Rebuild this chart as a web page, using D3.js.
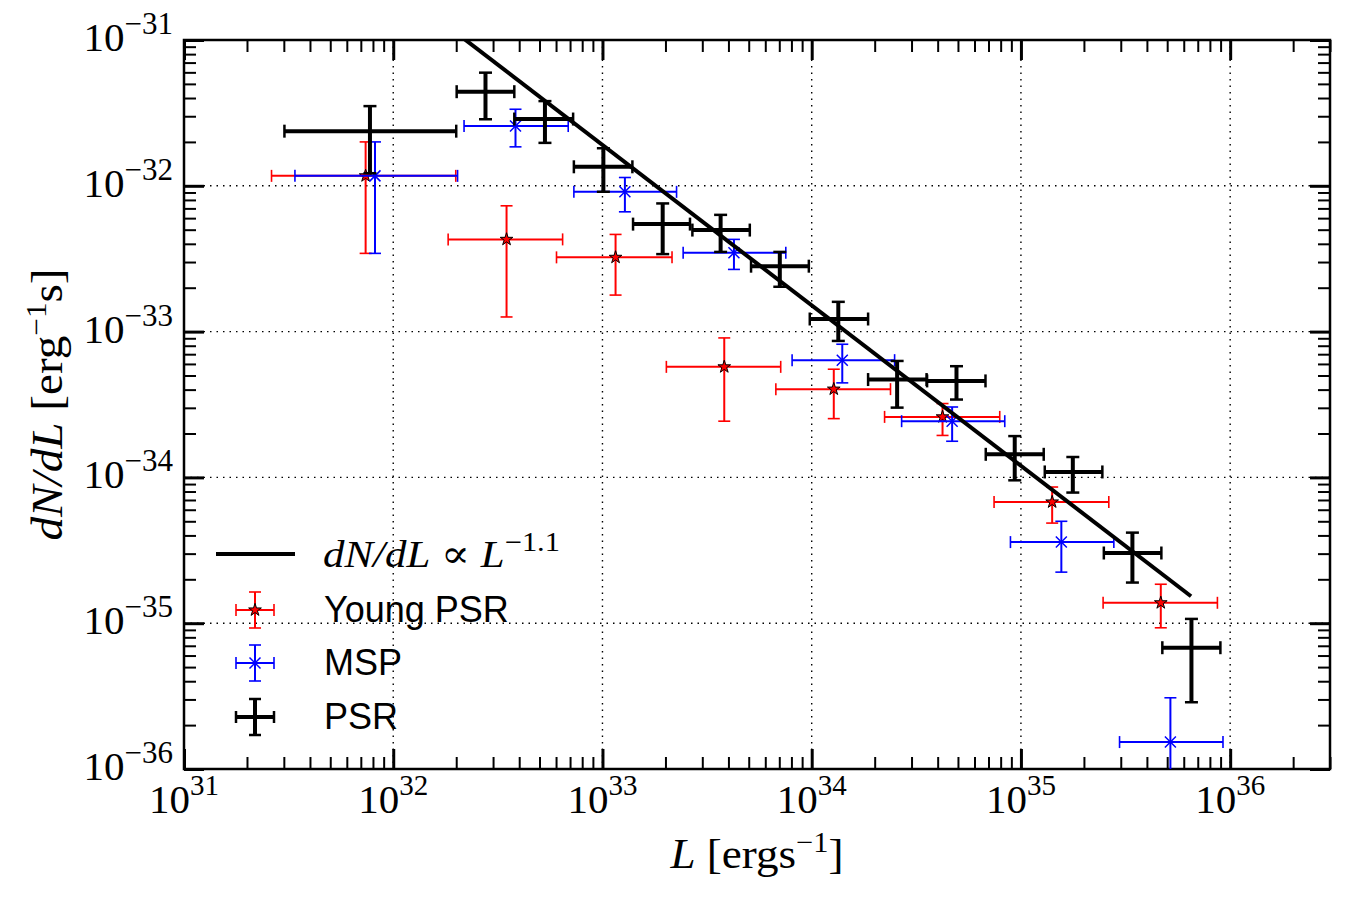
<!DOCTYPE html>
<meta charset="utf-8">
<script src="https://d3js.org/d3.v7.min.js"></script>
<style>
  body { margin: 0; background: #fff; }
  text { fill: #000; }
</style>
<div id="chart"></div>
<script>

// ---- data ----
// PSR (all pulsars), black crosses
var psrL   = [7.74e31, 2.76e32, 5.31e32, 1.01e33, 1.94e33, 3.67e33, 7.04e33, 1.34e34, 2.56e34, 4.92e34, 9.34e34, 1.77e35, 3.41e35, 6.53e35];
var psrLlo = [3.02e31, 2.01e32, 3.79e32, 7.30e32, 1.40e33, 2.69e33, 5.13e33, 9.79e33, 1.86e34, 3.56e34, 6.79e34, 1.30e35, 2.49e35, 4.74e35];
var psrLhi = [2.00e32, 3.79e32, 7.24e32, 1.39e33, 2.62e33, 5.06e33, 9.69e33, 1.86e34, 3.54e34, 6.77e34, 1.285e35, 2.45e35, 4.69e35, 8.98e35];
var psrY   = [2.37e-32, 4.42e-32, 2.87e-32, 1.35e-32, 5.46e-33, 4.97e-33, 2.81e-33, 1.22e-33, 4.69e-34, 4.59e-34, 1.44e-34, 1.09e-34, 3.03e-35, 6.79e-36];
var psrYlo = [1.22e-32, 2.86e-32, 1.97e-32, 9.10e-33, 3.40e-33, 3.52e-33, 2.03e-33, 8.63e-34, 3.01e-34, 3.42e-34, 9.55e-35, 7.87e-35, 1.90e-35, 2.87e-36];
var psrYhi = [3.52e-32, 5.97e-32, 3.81e-32, 1.81e-32, 7.57e-33, 6.32e-33, 3.52e-33, 1.60e-33, 6.29e-34, 5.79e-34, 1.92e-34, 1.38e-34, 4.18e-35, 1.07e-35];

// MSP, blue x
var mspL   = [8.18e31, 3.84e32, 1.28e33, 4.25e33, 1.40e34, 4.69e34, 1.56e35, 5.18e35];
var mspLlo = [3.39e31, 2.18e32, 7.30e32, 2.43e33, 8.06e33, 2.69e34, 8.91e34, 2.96e35];
var mspLhi = [2.03e32, 6.86e32, 2.26e33, 7.52e33, 2.49e34, 8.37e34, 2.78e35, 9.24e35];
var mspY   = [1.17e-32, 2.57e-32, 9.09e-33, 3.47e-33, 6.37e-34, 2.43e-34, 3.60e-35, 1.53e-36];
var mspYlo = [3.44e-33, 1.85e-32, 6.63e-33, 2.67e-33, 4.45e-34, 1.77e-34, 2.24e-35, 0];
var mspYhi = [2.00e-32, 3.35e-32, 1.14e-32, 4.29e-33, 8.19e-34, 3.04e-34, 5.00e-35, 3.08e-36];

// Young PSR, red stars
var youngL   = [7.38e31, 3.48e32, 1.155e33, 3.82e33, 1.275e34, 4.22e34, 1.41e35, 4.66e35];
var youngLlo = [2.62e31, 1.83e32, 6.03e32, 2.02e33, 6.74e33, 2.23e34, 7.44e34, 2.47e35];
var youngLhi = [1.99e32, 6.45e32, 2.15e33, 7.11e33, 2.38e34, 7.92e34, 2.63e35, 8.69e35];
var youngY   = [1.17e-32, 4.29e-33, 3.23e-33, 5.73e-34, 4.03e-34, 2.60e-34, 6.78e-35, 1.38e-35];
var youngYlo = [3.44e-33, 1.26e-33, 1.78e-33, 2.43e-34, 2.53e-34, 1.94e-34, 4.86e-35, 9.3e-36];
var youngYhi = [2.00e-32, 7.29e-33, 4.64e-33, 9.05e-34, 5.52e-34, 3.21e-34, 8.59e-35, 1.85e-35];

// power law dN/dL ~ L^-1.1 (end points)
var fitL = [2.0e32, 6.5e35];
var fitY = [1.12e-31, 1.53e-35];

var xMajor = [1e31, 1e32, 1e33, 1e34, 1e35, 1e36];
var xExp   = ["31", "32", "33", "34", "35", "36"];
var yMajor = [1e-31, 1e-32, 1e-33, 1e-34, 1e-35, 1e-36];
var yExp   = ["\u221231", "\u221232", "\u221233", "\u221234", "\u221235", "\u221236"];

// ---- layout ----
var W = 1350, H = 900;
var pL = 184, pR = 1330, pT = 40, pB = 769;

var svg = d3.select("#chart").append("svg")
  .attr("width", W).attr("height", H)
  .style("background", "#fff");

var x = d3.scaleLog().domain([1e31, 3e36]).range([pL, pR]);
var y = d3.scaleLog().domain([1e-36, 1e-31]).range([pB, pT]);

svg.append("clipPath").attr("id", "clip")
  .append("rect").attr("x", pL).attr("y", pT)
  .attr("width", pR - pL).attr("height", pB - pT);

// grid (dotted, major decades)
var grid = svg.append("g").attr("stroke", "#000").attr("stroke-width", 1.4)
  .attr("stroke-dasharray", "1.5,5");
grid.selectAll(".gx").data(xMajor.slice(1)).enter().append("line")
  .attr("x1", d => x(d)).attr("x2", d => x(d)).attr("y1", pT).attr("y2", pB);
grid.selectAll(".gy").data(yMajor.slice(1, 5)).enter().append("line")
  .attr("y1", d => y(d)).attr("y2", d => y(d)).attr("x1", pL).attr("x2", pR);

// ticks on all four sides, pointing inwards
var isDecade = d => Math.abs(Math.log10(d) - Math.round(Math.log10(d))) < 1e-6;
var xMinor = x.ticks().filter(d => !isDecade(d));
var yMinor = y.ticks().filter(d => !isDecade(d));

function tickAxis(axis, tr, vals, size, sw) {
  var g = svg.append("g").attr("transform", tr)
    .call(axis.tickValues(vals).tickSize(-size).tickFormat(""));
  g.select(".domain").remove();
  g.selectAll(".tick line").attr("stroke", "#000").attr("stroke-width", sw);
}
var xAxes = [[d3.axisBottom, "translate(0," + pB + ")"], [d3.axisTop, "translate(0," + pT + ")"]];
var yAxes = [[d3.axisLeft, "translate(" + pL + ",0)"], [d3.axisRight, "translate(" + pR + ",0)"]];
xAxes.forEach(function(a) {
  tickAxis(a[0](x), a[1], xMinor, 12, 2);
  tickAxis(a[0](x), a[1], xMajor, 20, 3);
});
yAxes.forEach(function(a) {
  tickAxis(a[0](y), a[1], yMinor, 12, 2);
  tickAxis(a[0](y), a[1], yMajor, 20, 3);
});

// frame
svg.append("rect").attr("x", pL).attr("y", pT)
  .attr("width", pR - pL).attr("height", pB - pT)
  .attr("fill", "none").attr("stroke", "#000").attr("stroke-width", 2.5);

// tick labels
var serif = "'Liberation Serif', 'DejaVu Serif', serif";
xMajor.forEach(function(v, i) {
  var t = svg.append("text").attr("x", x(v)).attr("y", 813)
    .attr("text-anchor", "middle").style("font-family", serif).style("font-size", "41px");
  t.append("tspan").text("10");
  t.append("tspan").attr("dy", -18).style("font-size", "29px").text(xExp[i]);
});
yMajor.forEach(function(v, i) {
  var t = svg.append("text").attr("x", 173).attr("y", y(v) + 11)
    .attr("text-anchor", "end").style("font-family", serif).style("font-size", "41px");
  t.append("tspan").text("10");
  t.append("tspan").attr("dy", -17).style("font-size", "31px").text(yExp[i]);
});

// axis labels
var xl = svg.append("text").attr("x", (pL + pR) / 2).attr("y", 868)
  .attr("text-anchor", "middle").attr("textLength", 173).attr("lengthAdjust", "spacingAndGlyphs")
  .style("font-family", serif).style("font-size", "43px");
xl.append("tspan").style("font-style", "italic").text("L");
xl.append("tspan").text(" [ergs");
xl.append("tspan").attr("dy", -16).style("font-size", "29px").text("\u22121");
xl.append("tspan").attr("dy", 16).text("]");

var yl = svg.append("text").attr("transform", "translate(62," + ((pT + pB) / 2) + ") rotate(-90)")
  .attr("text-anchor", "middle").attr("textLength", 272).attr("lengthAdjust", "spacingAndGlyphs")
  .style("font-family", serif).style("font-size", "44px");
yl.append("tspan").style("font-style", "italic").text("dN/dL");
yl.append("tspan").text(" [erg");
yl.append("tspan").attr("dy", -16).style("font-size", "29px").text("\u22121");
yl.append("tspan").attr("dy", 16).text("s]");

// ---- error bars ----
var plot = svg.append("g").attr("clip-path", "url(#clip)");

function errorbars(L, Llo, Lhi, Y, Ylo, Yhi, color, lw, capw, cap) {
  var g = plot.append("g").attr("stroke", color);
  L.forEach(function(l, i) {
    var cx = x(l), cy = y(Y[i]);
    var yb = Ylo[i] > 0 ? y(Ylo[i]) : pB + 20;
    g.append("line").attr("x1", x(Llo[i])).attr("x2", x(Lhi[i])).attr("y1", cy).attr("y2", cy).attr("stroke-width", lw);
    g.append("line").attr("x1", cx).attr("x2", cx).attr("y1", y(Yhi[i])).attr("y2", yb).attr("stroke-width", lw);
    [x(Llo[i]), x(Lhi[i])].forEach(function(px) {
      g.append("line").attr("x1", px).attr("x2", px).attr("y1", cy - cap).attr("y2", cy + cap).attr("stroke-width", capw);
    });
    [y(Yhi[i])].concat(Ylo[i] > 0 ? [yb] : []).forEach(function(py) {
      g.append("line").attr("x1", cx - cap).attr("x2", cx + cap).attr("y1", py).attr("y2", py).attr("stroke-width", capw);
    });
  });
  return g;
}

var star = d3.symbol().type(d3.symbolStar).size(50);

var gy = errorbars(youngL, youngLlo, youngLhi, youngY, youngYlo, youngYhi, "#ff0000", 2, 1.6, 6);
gy.selectAll(".m").data(youngL).enter().append("path")
  .attr("d", star).attr("transform", (d, i) => "translate(" + x(d) + "," + y(youngY[i]) + ")")
  .attr("fill", "#ff0000").attr("stroke", "#000").attr("stroke-width", 1);

var gm = errorbars(mspL, mspLlo, mspLhi, mspY, mspYlo, mspYhi, "#0000ff", 2, 1.6, 6);
mspL.forEach(function(l, i) {
  var cx = x(l), cy = y(mspY[i]), r = 5.5;
  gm.append("path").attr("d", "M" + (cx - r) + "," + (cy - r) + "L" + (cx + r) + "," + (cy + r) +
    "M" + (cx - r) + "," + (cy + r) + "L" + (cx + r) + "," + (cy - r)).attr("stroke-width", 1.5);
});

errorbars(psrL, psrLlo, psrLhi, psrY, psrYlo, psrYhi, "#000", 4, 2.5, 6.5);

// power law line
plot.append("path")
  .datum(fitL.map((l, i) => [l, fitY[i]]))
  .attr("d", d3.line().x(d => x(d[0])).y(d => y(d[1])))
  .attr("fill", "none").attr("stroke", "#000").attr("stroke-width", 4);

// ---- legend ----
var lg = svg.append("g");
var lx = 255, rows = [554, 610, 663, 717];
lg.append("line").attr("x1", 216).attr("x2", 295).attr("y1", rows[0]).attr("y2", rows[0])
  .attr("stroke", "#000").attr("stroke-width", 4);
var lt = lg.append("text").attr("x", 323).attr("y", 567)
  .attr("textLength", 237).attr("lengthAdjust", "spacingAndGlyphs")
  .style("font-family", serif).style("font-size", "38px");
lt.append("tspan").style("font-style", "italic").text("dN/dL");
lt.append("tspan").text(" \u221D ");
lt.append("tspan").style("font-style", "italic").text("L");
lt.append("tspan").attr("dy", -16).style("font-size", "27px").text("\u22121.1");

function legendBar(cy, color, lw, capw) {
  var g = lg.append("g").attr("stroke", color);
  g.append("line").attr("x1", lx - 19).attr("x2", lx + 19).attr("y1", cy).attr("y2", cy).attr("stroke-width", lw);
  g.append("line").attr("x1", lx).attr("x2", lx).attr("y1", cy - 18).attr("y2", cy + 18).attr("stroke-width", lw);
  g.append("line").attr("x1", lx - 19).attr("x2", lx - 19).attr("y1", cy - 6).attr("y2", cy + 6).attr("stroke-width", capw);
  g.append("line").attr("x1", lx + 19).attr("x2", lx + 19).attr("y1", cy - 6).attr("y2", cy + 6).attr("stroke-width", capw);
  g.append("line").attr("x1", lx - 6).attr("x2", lx + 6).attr("y1", cy - 18).attr("y2", cy - 18).attr("stroke-width", capw);
  g.append("line").attr("x1", lx - 6).attr("x2", lx + 6).attr("y1", cy + 18).attr("y2", cy + 18).attr("stroke-width", capw);
  return g;
}
legendBar(rows[1], "#ff0000", 2, 1.6);
lg.append("path").attr("d", star).attr("transform", "translate(" + lx + "," + rows[1] + ")")
  .attr("fill", "#ff0000").attr("stroke", "#000").attr("stroke-width", 1);
var lm = legendBar(rows[2], "#0000ff", 2, 1.6);
lm.append("path").attr("d", "M" + (lx - 5.5) + "," + (rows[2] - 5.5) + "L" + (lx + 5.5) + "," + (rows[2] + 5.5) +
  "M" + (lx - 5.5) + "," + (rows[2] + 5.5) + "L" + (lx + 5.5) + "," + (rows[2] - 5.5)).attr("stroke-width", 1.5);
legendBar(rows[3], "#000", 4, 2.5);

var sans = "'Liberation Sans', Arial, sans-serif";
["Young PSR", "MSP", "PSR"].forEach(function(s, i) {
  lg.append("text").attr("x", 324).attr("y", rows[i + 1] + 12)
    .style("font-family", sans).style("font-size", "36px").text(s);
});

</script>
